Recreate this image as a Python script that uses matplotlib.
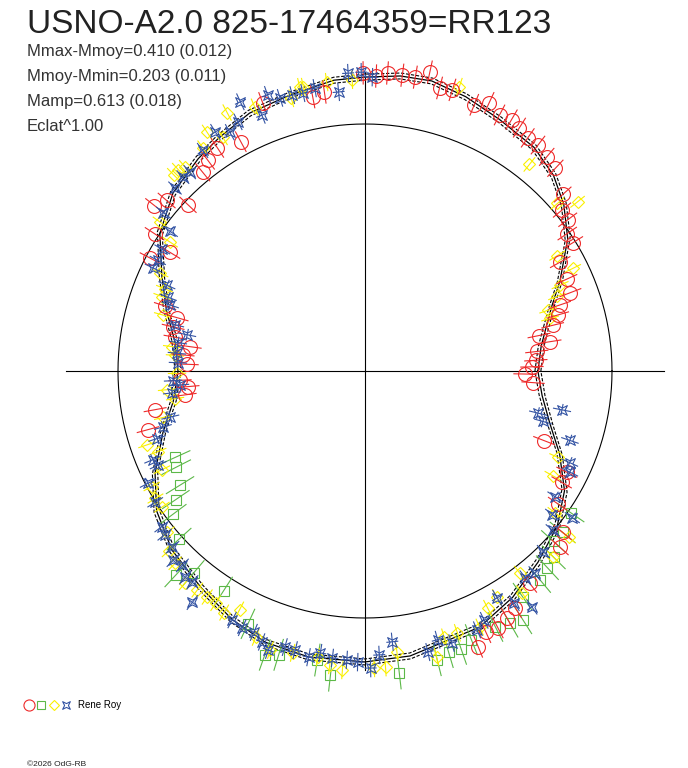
import numpy as np
import matplotlib
matplotlib.use('Agg')
from matplotlib import pyplot as plt
from matplotlib.path import Path
from matplotlib.lines import Line2D
from matplotlib.legend_handler import HandlerTuple

plt.rcParams['font.family'] = ['Liberation Sans', 'DejaVu Sans']

# 标题与统计 *******************************************************************
title = 'USNO-A2.0 825-17464359=RR123'
stats = ['Mmax-Mmoy=0.410 (0.012)',
         'Mmoy-Mmin=0.203 (0.011)',
         'Mamp=0.613 (0.018)',
         'Eclat^1.00']
observer = 'Rene Roy'
credit = '©2026 OdG-RB'

# 模型曲线 (相位, 相对亮度)
fit_phase = [0.000, 0.022, 0.036, 0.053, 0.069, 0.092, 0.111, 0.128, 0.147, 0.172,
             0.194, 0.214, 0.231, 0.250, 0.267, 0.292, 0.317, 0.339, 0.356, 0.381,
             0.406, 0.431, 0.453, 0.475, 0.500, 0.525, 0.547, 0.572, 0.594, 0.619,
             0.647, 0.672, 0.694, 0.719, 0.750, 0.775, 0.817, 0.842, 0.867, 0.892,
             0.914, 0.936, 0.956, 0.978, 1.000]
fit_flux = [0.700, 0.720, 0.750, 0.800, 0.870, 0.980, 1.050, 1.100, 1.135, 1.155,
            1.183, 1.205, 1.203, 1.190, 1.184, 1.158, 1.144, 1.114, 1.093, 1.060,
            1.000, 0.906, 0.840, 0.780, 0.757, 0.786, 0.855, 0.945, 1.016, 1.066,
            1.100, 1.141, 1.170, 1.180, 1.178, 1.168, 1.136, 1.094, 1.044, 1.000,
            0.942, 0.856, 0.778, 0.724, 0.700]
fit_err = 0.012

# 观测点: 红 (圆)
red_phase = [0.280, 0.273, 0.251, 0.244, 0.238, 0.230, 0.223, 0.216, 0.209, 0.202,
             0.188, 0.181, 0.173, 0.166, 0.160, 0.153, 0.146, 0.138, 0.130, 0.116,
             0.109, 0.102, 0.095, 0.088, 0.081, 0.068, 0.058, 0.052, 0.045, 0.038,
             0.032, 0.025, 0.018, 0.010, 0.004, 0.997, 0.989, 0.941, 0.926, 0.918,
             0.904, 0.891, 0.883, 0.855, 0.840, 0.833, 0.826, 0.819, 0.812, 0.308,
             0.329, 0.343, 0.352, 0.359, 0.380, 0.387, 0.394, 0.408, 0.413, 0.423,
             0.450, 0.456, 0.464, 0.472, 0.478, 0.486, 0.494, 0.508, 0.514, 0.521,
             0.529, 0.542]
red_flux = [1.130, 1.141, 1.207, 1.195, 1.210, 1.207, 1.207, 1.239, 1.185, 1.192,
            1.165, 1.197, 1.171, 1.178, 1.167, 1.151, 1.152, 1.137, 1.126, 1.073,
            1.030, 1.024, 0.990, 0.990, 0.905, 0.897, 0.890, 0.833, 0.813, 0.782,
            0.719, 0.758, 0.700, 0.693, 0.676, 0.648, 0.682, 0.778, 0.914, 0.915,
            0.947, 1.033, 1.064, 1.088, 1.136, 1.154, 1.171, 1.166, 1.207, 1.161,
            1.056, 1.083, 1.065, 1.039, 0.983, 1.059, 1.084, 1.017, 0.923, 0.983,
            0.851, 0.790, 0.797, 0.781, 0.715, 0.740, 0.721, 0.750, 0.720, 0.735,
            0.864, 0.910]
red_err = 0.045

# 绿 (方块)
green_phase = [0.568, 0.575, 0.588, 0.595, 0.602, 0.617, 0.631, 0.638, 0.659, 0.681,
               0.696, 0.703, 0.724, 0.732, 0.768, 0.789, 0.796, 0.803, 0.810, 0.825,
               0.833, 0.840, 0.847, 0.861, 0.869, 0.876, 0.883, 0.891, 0.904]
green_flux = [0.844, 0.858, 0.880, 0.926, 0.969, 1.015, 1.126, 1.072, 1.058, 1.128,
              1.219, 1.201, 1.186, 1.239, 1.230, 1.206, 1.187, 1.191, 1.170, 1.163,
              1.177, 1.194, 1.114, 1.104, 1.086, 1.074, 1.029, 1.033, 1.011]
green_err = 0.065

# 黄 (菱形)
yellow_phase = [0.286, 0.271, 0.257, 0.199, 0.143, 0.114, 0.107, 0.086, 0.073, 0.066,
                0.059, 0.051, 0.044, 0.933, 0.919, 0.898, 0.891, 0.876, 0.854, 0.848,
                0.834, 0.826, 0.817, 0.804, 0.796, 0.789, 0.768, 0.761, 0.731, 0.738,
                0.755, 0.724, 0.552, 0.559, 0.572, 0.579, 0.587, 0.594, 0.609, 0.618,
                0.626, 0.638, 0.646, 0.653, 0.659, 0.666, 0.673, 0.688, 0.698, 0.710,
                0.400, 0.407, 0.429, 0.438, 0.444, 0.457, 0.480, 0.487, 0.502, 0.515,
                0.523, 0.536, 0.373, 0.369, 0.365, 0.350, 0.343, 0.337, 0.328, 0.313,
                0.292, 0.284]
yellow_flux = [1.180, 1.180, 1.180, 1.213, 1.069, 1.033, 1.100, 0.908, 0.938, 0.863,
               0.833, 0.781, 0.779, 0.855, 0.870, 0.960, 1.064, 1.071, 1.031, 1.100,
               1.060, 1.081, 1.136, 1.124, 1.125, 1.194, 1.145, 1.202, 1.199, 1.214,
               1.203, 1.174, 0.932, 0.900, 0.914, 0.982, 0.993, 0.990, 1.033, 1.078,
               1.094, 1.126, 1.117, 1.116, 1.118, 1.132, 1.092, 1.165, 1.193, 1.178,
               1.025, 0.946, 0.920, 0.877, 0.875, 0.849, 0.787, 0.772, 0.761, 0.805,
               0.777, 0.839, 1.110, 1.111, 1.101, 1.116, 1.158, 1.108, 1.186, 1.158,
               1.144, 1.177]
yellow_err = 0.035

# 蓝 (星形)
blue_phase = [0.259, 0.252, 0.246, 0.278, 0.285, 0.265, 0.319, 0.304, 0.298, 0.291,
              0.311, 0.325, 0.332, 0.339, 0.351, 0.365, 0.370, 0.378, 0.394, 0.401,
              0.414, 0.422, 0.428, 0.435, 0.443, 0.448, 0.462, 0.468, 0.476, 0.485,
              0.493, 0.508, 0.512, 0.518, 0.537, 0.543, 0.550, 0.563, 0.568, 0.576,
              0.589, 0.604, 0.609, 0.618, 0.624, 0.630, 0.636, 0.641, 0.648, 0.672,
              0.679, 0.686, 0.692, 0.697, 0.705, 0.711, 0.719, 0.725, 0.732, 0.740,
              0.746, 0.753, 0.758, 0.766, 0.785, 0.792, 0.799, 0.815, 0.821, 0.834,
              0.841, 0.855, 0.848, 0.861, 0.874, 0.888, 0.896, 0.902, 0.907, 0.927,
              0.933, 0.948, 0.962, 0.969, 0.956]
blue_flux = [1.208, 1.210, 1.190, 1.163, 1.153, 1.135, 1.201, 1.186, 1.158, 1.155,
             1.117, 1.132, 1.111, 1.142, 1.109, 1.073, 1.077, 1.068, 1.038, 0.970,
             0.957, 0.951, 0.954, 0.874, 0.851, 0.833, 0.791, 0.735, 0.766, 0.765,
             0.758, 0.778, 0.751, 0.786, 0.810, 0.849, 0.885, 0.931, 0.920, 0.989,
             1.002, 1.036, 1.047, 1.057, 1.091, 1.080, 1.108, 1.105, 1.169, 1.143,
             1.152, 1.150, 1.174, 1.196, 1.164, 1.165, 1.181, 1.156, 1.169, 1.172,
             1.179, 1.203, 1.151, 1.102, 1.166, 1.127, 1.156, 1.142, 1.119, 1.063,
             1.118, 1.059, 1.170, 1.069, 1.028, 0.997, 0.956, 1.028, 0.923, 0.925,
             0.908, 0.876, 0.721, 0.813, 0.749]
blue_err = 0.035
blue_perr = 0.022

ref_level = 1.0   # 平均亮度圆
axis_len = 1.21

# 颜色
c_red = '#ee2a2a'
c_green = '#5cb848'
c_yellow = '#faf000'
c_blue = '#3454a4'

# 凹四角星标记
star = Path([(1, 1), (0, 0.5), (-1, 1), (-0.5, 0), (-1, -1), (0, -0.5),
             (1, -1), (0.5, 0), (1, 1)],
            [Path.MOVETO] + [Path.LINETO] * 7 + [Path.CLOSEPOLY])

# 作图 *************************************************************************
W, H = 688, 768
fig = plt.figure(figsize=(W / 100, H / 100), dpi=100)
cx, cy, R = 365, 371, 247
rmax = 1.3
size = 2 * R * rmax
ax = fig.add_axes([(cx - size / 2) / W, (H - cy - size / 2) / H, size / W, size / H],
                  projection='polar')
ax.set_ylim(0, rmax)
ax.set_axis_off()

tgrid = np.linspace(0, 2 * np.pi, 361)
ax.plot(tgrid, np.full_like(tgrid, ref_level), c='k', lw=0.8)
for t in [0, np.pi / 2, np.pi, 3 * np.pi / 2]:
    ax.plot([t, t], [0, axis_len], c='k', lw=0.8)

fth = 2 * np.pi * np.array(fit_phase)
ff = np.array(fit_flux)
ax.plot(fth, ff, c='k', lw=0.9)
ax.plot(fth, ff + fit_err, c='k', lw=0.8, ls=(0, (3, 1.5)))
ax.plot(fth, ff - fit_err, c='k', lw=0.8, ls=(0, (3, 1.5)))


def draw_series(phase, flux, err, color, marker, ms, perr=None):
    th = 2 * np.pi * np.array(phase)
    fl = np.array(flux)
    for t, f in zip(th, fl):
        ax.plot([t, t], [f - err, f + err], c=color, lw=0.8, clip_on=False)
        if perr is not None:
            d = perr / f
            ax.plot([t - d, t + d], [f, f], c=color, lw=0.8, clip_on=False)
    ax.plot(th, fl, ls='none', marker=marker, ms=ms, mfc='none', mec=color,
            mew=0.8, clip_on=False)


draw_series(green_phase, green_flux, green_err, c_green, 's', 7)
draw_series(yellow_phase, yellow_flux, yellow_err, c_yellow, 'D', 6)
draw_series(red_phase, red_flux, red_err, c_red, 'o', 10)
draw_series(blue_phase, blue_flux, blue_err, c_blue, star, 7, perr=blue_perr)

# 文字
fig.text(27 / W, 1 - 33 / H, title, fontsize=24, color='#222222', va='baseline')
for i, s in enumerate(stats):
    fig.text(27 / W, 1 - (56 + 25 * i) / H, s, fontsize=12, color='#333333',
             va='baseline')

# 图例
hc = Line2D([], [], ls='none', marker='o', ms=8, mfc='none', mec=c_red, mew=0.8)
hs = Line2D([], [], ls='none', marker='s', ms=6, mfc='none', mec=c_green, mew=0.8)
hd = Line2D([], [], ls='none', marker='D', ms=5.5, mfc='none', mec=c_yellow, mew=0.8)
hb = Line2D([], [], ls='none', marker=star, ms=5.5, mfc='none', mec=c_blue, mew=0.8)
fig.legend(handles=[(hc, hs, hd, hb)], labels=[observer],
           handler_map={tuple: HandlerTuple(ndivide=None, pad=0.0)},
           loc='center left', bbox_to_anchor=(23 / W, 1 - 705 / H),
           frameon=False, fontsize=7, handlelength=5.05, handletextpad=0.6,
           borderpad=0, borderaxespad=0)

fig.text(27 / W, 1 - 766 / H, credit, fontsize=6, color='#222222', va='baseline')

fig.savefig('out.png', dpi=100)
